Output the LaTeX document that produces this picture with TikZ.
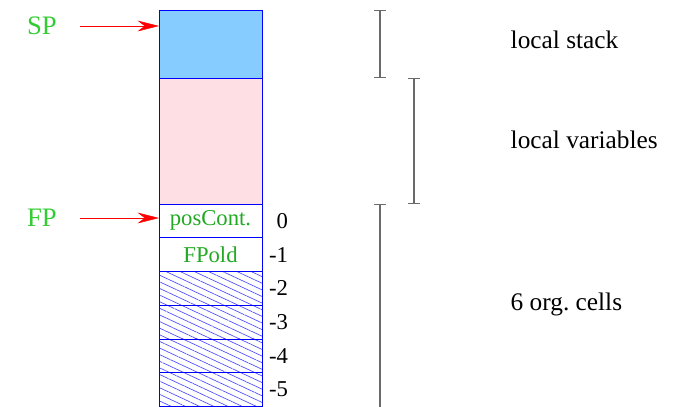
\documentclass[tikz,border=0pt]{standalone}
\usepackage{fontspec}
\setmainfont{Liberation Serif}
\usetikzlibrary{arrows.meta,positioning,patterns.meta}
\definecolor{stackBlue}{HTML}{86CCFF}
\definecolor{varPink}{HTML}{FDDFE4}
\definecolor{regGreen}{HTML}{33CC33}
\definecolor{cellGreen}{HTML}{22A822}
\definecolor{bracketGray}{HTML}{6A6A6A}

\begin{document}
\begin{tikzpicture}[x=0.75pt,y=-0.75pt,every node/.style={font=\fontsize{17}{20}\selectfont}]
  \tikzstyle{c}=[draw=blue,line width=0.6pt,minimum width=77.25pt,minimum height=25.3pt,
                 inner sep=0pt,outer sep=0pt,text=cellGreen]
  \tikzstyle{h}=[c,pattern={Lines[angle=-25,distance=4.5pt,line width=0.5pt]},pattern color=blue!70]
  \tikzstyle{r}=[text=regGreen,font=\fontsize{20}{24}\selectfont]
  \tikzstyle{n}=[anchor=east,font=\fontsize{17}{20}\selectfont]
  \tikzstyle{l}=[anchor=west,font=\fontsize{19}{22}\selectfont]
  \tikzstyle{b}=[draw=bracketGray,line width=0.9pt]
  \useasboundingbox (0,0) rectangle (673,406);
  % the frame
  \node[c,fill=stackBlue,minimum height=51pt] (stk) at (210.5,44) {};
  \node[c,fill=varPink,minimum height=94.5pt,below=0pt of stk] (vars) {};
  \node[c,below=0pt of vars] (pc) {posCont.};
  \node[c,below=0pt of pc] (fpo) {FPold};
  \node[h,below=0pt of fpo] (o2) {};
  \node[h,below=0pt of o2] (o3) {};
  \node[h,below=0pt of o3] (o4) {};
  \node[h,below=0pt of o4] (o5) {};
  % offsets
  \node[n] at ([xshift=23pt]pc.east) {0};
  \node[n] at ([xshift=23pt]fpo.east) {-1};
  \node[n] at ([xshift=23pt]o2.east) {-2};
  \node[n] at ([xshift=23pt]o3.east) {-3};
  \node[n] at ([xshift=23pt]o4.east) {-4};
  \node[n] at ([xshift=23pt]o5.east) {-5};
  % registers
  \node[r] (sp) at (42,26) {SP};
  \node[r] (fp) at (42,218) {FP};
  \draw[red,-{Stealth[length=16pt,width=8pt]}] ([xshift=14pt]sp.east) -- (sp -| stk.west);
  \draw[red,-{Stealth[length=16pt,width=8pt]}] ([xshift=14pt]fp.east) -- (fp -| pc.west);
  % brackets
  \coordinate (bx1) at (380,0);
  \coordinate (bx2) at (414,0);
  \coordinate (bend) at (380,420);
  \draw[b,{Bar[width=9pt]}-{Bar[width=9pt]}] (stk.north -| bx1) -- (stk.south -| bx1);
  \draw[b,{Bar[width=9pt]}-{Bar[width=9pt]}] (vars.north -| bx2) -- (vars.south -| bx2);
  \draw[b,{Bar[width=9pt]}-] (pc.north -| bx1) -- (bend);
  \node[l] (ls) at (506,40) {local stack};
  \node[l] (lv) at (506,140) {local variables};
  \node[l] (oc) at (506,304) {6 org.\ cells};
\end{tikzpicture}
\end{document}
